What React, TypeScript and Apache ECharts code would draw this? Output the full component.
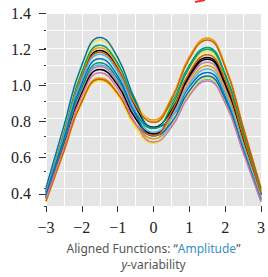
import React, { useEffect, useRef } from "react";
import * as echarts from "echarts";

const xValues = [-3, -2.5, -2, -1.5, -1, -0.5, 0, 0.5, 1, 1.5, 2, 2.5, 3];

const curve01 = [0.381, 0.712, 1.038, 1.186, 1.085, 0.865, 0.749, 0.846, 1.051, 1.146, 1.003, 0.688, 0.368];
const curve02 = [0.386, 0.721, 1.051, 1.202, 1.103, 0.889, 0.79, 0.916, 1.151, 1.258, 1.101, 0.756, 0.404];
const curve03 = [0.355, 0.663, 0.967, 1.104, 1.009, 0.8, 0.683, 0.761, 0.939, 1.022, 0.894, 0.613, 0.328];
const curve04 = [0.391, 0.73, 1.064, 1.216, 1.114, 0.891, 0.777, 0.885, 1.103, 1.203, 1.053, 0.722, 0.386];
const curve05 = [0.4, 0.748, 1.091, 1.246, 1.139, 0.906, 0.779, 0.874, 1.083, 1.18, 1.032, 0.707, 0.379];
const curve06 = [0.405, 0.757, 1.104, 1.26, 1.147, 0.899, 0.745, 0.804, 0.979, 1.061, 0.927, 0.635, 0.34];
const curve07 = [0.378, 0.706, 1.029, 1.177, 1.08, 0.872, 0.778, 0.905, 1.139, 1.246, 1.091, 0.748, 0.4];
const curve08 = [0.352, 0.657, 0.958, 1.095, 1.004, 0.807, 0.711, 0.819, 1.025, 1.12, 0.98, 0.672, 0.36];
const curve09 = [0.346, 0.646, 0.942, 1.078, 0.989, 0.798, 0.711, 0.826, 1.039, 1.136, 0.994, 0.682, 0.365];
const curve10 = [0.331, 0.618, 0.901, 1.03, 0.946, 0.765, 0.684, 0.798, 1.005, 1.099, 0.962, 0.66, 0.353];
const curve11 = [0.374, 0.699, 1.02, 1.165, 1.064, 0.844, 0.721, 0.804, 0.993, 1.081, 0.945, 0.648, 0.347];
const curve12 = [0.358, 0.669, 0.976, 1.116, 1.025, 0.829, 0.742, 0.866, 1.091, 1.193, 1.045, 0.717, 0.383];
const curve13 = [0.326, 0.608, 0.887, 1.014, 0.93, 0.746, 0.657, 0.754, 0.943, 1.03, 0.902, 0.618, 0.331];
const curve14 = [0.366, 0.684, 0.998, 1.139, 1.041, 0.823, 0.7, 0.776, 0.957, 1.041, 0.91, 0.624, 0.334];
const curve15 = [0.328, 0.613, 0.894, 1.023, 0.942, 0.768, 0.702, 0.835, 1.06, 1.162, 1.018, 0.698, 0.374];
const curve16 = [0.34, 0.636, 0.927, 1.059, 0.969, 0.771, 0.665, 0.749, 0.929, 1.013, 0.886, 0.607, 0.325];

const curves = [
  curve01, curve02, curve03, curve04, curve05, curve06, curve07, curve08,
  curve09, curve10, curve11, curve12, curve13, curve14, curve15, curve16,
];

const palette = ["#000000", "#E69F00", "#56B4E9", "#009E73", "#F0E442", "#0072B2", "#D55E00", "#CC79A7"];

const yMajorTicks = [0.4, 1.4];

const serif = "'Liberation Serif', 'Times New Roman', serif";
const sans = "'Noto Sans', sans-serif";

export default function App() {
  const ref = useRef<HTMLDivElement>(null);

  useEffect(() => {
    if (!ref.current) return;
    const chart = echarts.init(ref.current, undefined, { renderer: "svg" });

    const fmt = (v: number) => {
      const r = Math.round(v * 10) / 10;
      return r < 0 ? "\u2212" + String(-r) : String(r);
    };

    const series = curves.map((c, i) => ({
      type: "line",
      xAxisIndex: 0,
      yAxisIndex: 0,
      data: xValues.map((x, j) => [x, c[j]]),
      smooth: 0.5,
      showSymbol: false,
      symbol: "none",
      lineStyle: { color: palette[i % palette.length], width: 1.5 },
      itemStyle: { color: palette[i % palette.length] },
      z: 3,
    }));

    const option: any = {
      animation: false,
      backgroundColor: "#ffffff",
      grid: [
        {
          left: 46, right: 6, top: 13, bottom: 65,
          show: true, backgroundColor: "#e5e5e5", borderWidth: 0,
        },
        {
          left: 46, right: 6, top: 13, bottom: 83.1,
          show: false,
        },
      ],
      xAxis: [
        {
          type: "value", gridIndex: 0, min: -3, max: 3, interval: 1,
          axisLine: { show: false, onZero: false },
          axisTick: { show: true, length: 6, lineStyle: { color: "#333", width: 1 } },
          axisLabel: {
            formatter: fmt, fontFamily: serif, fontSize: 16, color: "#222", margin: 13,
          },
          splitLine: { show: true, lineStyle: { color: "#ffffff", width: 1 } },
          minorTick: { show: false, splitNumber: 2 },
          minorSplitLine: { show: true, lineStyle: { color: "#ffffff", width: 1 } },
          name: "Aligned Functions: \u201C{b|Amplitude}\u201D\n{i|y}-variability",
          nameLocation: "middle",
          nameGap: 33,
          nameTextStyle: {
            color: "#555555", fontFamily: sans, fontSize: 12, lineHeight: 16, align: "center",
            rich: {
              b: { color: "#3b8ec6", fontFamily: sans, fontSize: 12, lineHeight: 16 },
              i: { color: "#555555", fontFamily: sans, fontSize: 12, lineHeight: 16, fontStyle: "italic" },
            },
          },
        },
        {
          type: "value", gridIndex: 1, min: 0, max: 1, show: false,
          axisLine: { onZero: false },
        },
      ],
      yAxis: [
        {
          type: "value", gridIndex: 0, min: 0.3, max: yMajorTicks[1], interval: 0.1,
          axisLine: { show: false, onZero: false },
          axisTick: { show: true, length: 2, lineStyle: { color: "#333", width: 1 } },
          axisLabel: { show: false },
          splitLine: { show: true, lineStyle: { color: "#ffffff", width: 1 } },
        },
        {
          type: "value", gridIndex: 1, min: yMajorTicks[0], max: yMajorTicks[1], interval: 0.2,
          axisLine: { show: false, onZero: false },
          axisTick: { show: true, length: 7, lineStyle: { color: "#333", width: 1 } },
          axisLabel: {
            formatter: (v: number) => v.toFixed(1),
            fontFamily: serif, fontSize: 16, color: "#222", margin: 15,
          },
          splitLine: { show: false },
        },
      ],
      graphic: [
        {
          type: "line",
          shape: { x1: 195, y1: 2, x2: 205, y2: 0 },
          style: { stroke: "#ff2a2a", lineWidth: 2 },
        },
      ],
      series,
    };

    chart.setOption(option);
    return () => chart.dispose();
  }, []);

  return (
    <div
      ref={ref}
      style={{ position: "absolute", left: 0, top: 0, width: 268, height: 277 }}
    />
  );
}
